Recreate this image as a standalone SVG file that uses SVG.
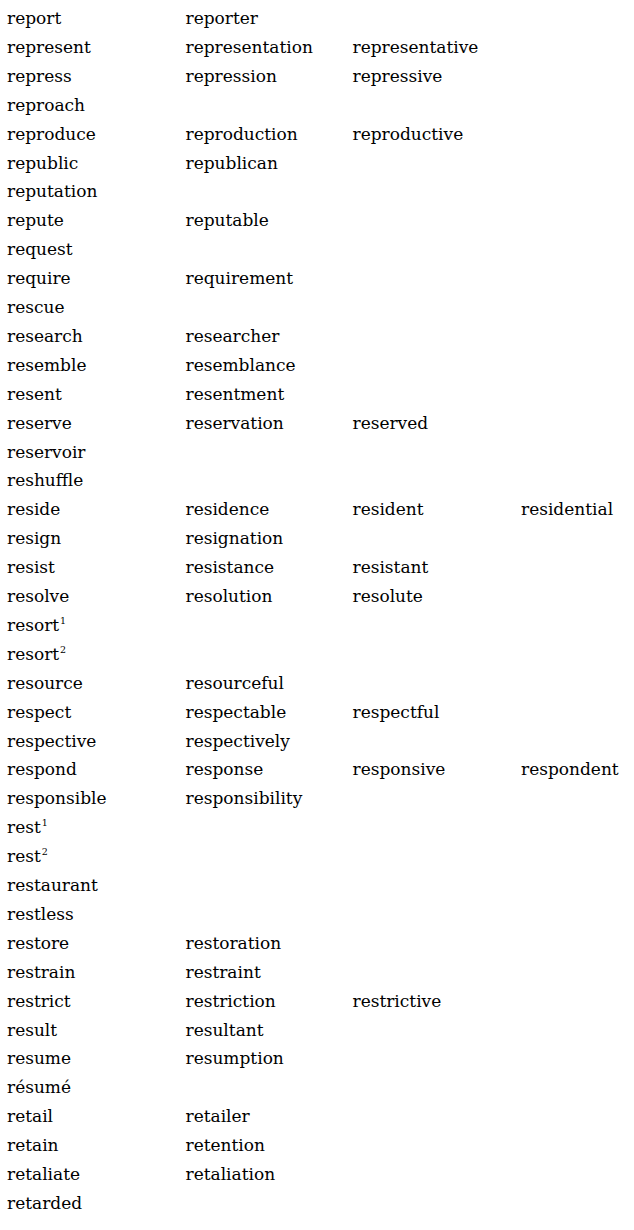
<svg xmlns="http://www.w3.org/2000/svg" width="634" height="1230" viewBox="0 0 634 1230">
<style>
text{font-family:"DejaVu Serif","Liberation Serif",serif;font-size:17px;fill:#000000}
.s{font-size:9.5px}
</style>
<rect width="634" height="1230" fill="#ffffff"/>
<g id="col1">
<text x="7" y="24">report</text>
<text x="7" y="52.9">represent</text>
<text x="7" y="81.8">repress</text>
<text x="7" y="110.7">reproach</text>
<text x="7" y="139.6">reproduce</text>
<text x="7" y="168.5">republic</text>
<text x="7" y="197.4">reputation</text>
<text x="7" y="226.3">repute</text>
<text x="7" y="255.2">request</text>
<text x="7" y="284.1">require</text>
<text x="7" y="313">rescue</text>
<text x="7" y="341.9">research</text>
<text x="7" y="370.8">resemble</text>
<text x="7" y="399.7">resent</text>
<text x="7" y="428.6">reserve</text>
<text x="7" y="457.5">reservoir</text>
<text x="7" y="486.4">reshuffle</text>
<text x="7" y="515.3">reside</text>
<text x="7" y="544.2">resign</text>
<text x="7" y="573.1">resist</text>
<text x="7" y="602">resolve</text>
<text x="7" y="630.9">resort<tspan class="s" dx="1" dy="-7">1</tspan></text>
<text x="7" y="659.8">resort<tspan class="s" dx="1" dy="-7">2</tspan></text>
<text x="7" y="688.7">resource</text>
<text x="7" y="717.6">respect</text>
<text x="7" y="746.5">respective</text>
<text x="7" y="775.4">respond</text>
<text x="7" y="804.3">responsible</text>
<text x="7" y="833.2">rest<tspan class="s" dx="1" dy="-7">1</tspan></text>
<text x="7" y="862.1">rest<tspan class="s" dx="1" dy="-7">2</tspan></text>
<text x="7" y="891">restaurant</text>
<text x="7" y="919.9">restless</text>
<text x="7" y="948.8">restore</text>
<text x="7" y="977.7">restrain</text>
<text x="7" y="1006.6">restrict</text>
<text x="7" y="1035.5">result</text>
<text x="7" y="1064.4">resume</text>
<text x="7" y="1093.3">résumé</text>
<text x="7" y="1122.2">retail</text>
<text x="7" y="1151.1">retain</text>
<text x="7" y="1180">retaliate</text>
<text x="7" y="1208.9">retarded</text>
</g>
<g id="col2">
<text x="185.5" y="24">reporter</text>
<text x="185.5" y="52.9">representation</text>
<text x="185.5" y="81.8">repression</text>
<text x="185.5" y="139.6">reproduction</text>
<text x="185.5" y="168.5">republican</text>
<text x="185.5" y="226.3">reputable</text>
<text x="185.5" y="284.1">requirement</text>
<text x="185.5" y="341.9">researcher</text>
<text x="185.5" y="370.8">resemblance</text>
<text x="185.5" y="399.7">resentment</text>
<text x="185.5" y="428.6">reservation</text>
<text x="185.5" y="515.3">residence</text>
<text x="185.5" y="544.2">resignation</text>
<text x="185.5" y="573.1">resistance</text>
<text x="185.5" y="602">resolution</text>
<text x="185.5" y="688.7">resourceful</text>
<text x="185.5" y="717.6">respectable</text>
<text x="185.5" y="746.5">respectively</text>
<text x="185.5" y="775.4">response</text>
<text x="185.5" y="804.3">responsibility</text>
<text x="185.5" y="948.8">restoration</text>
<text x="185.5" y="977.7">restraint</text>
<text x="185.5" y="1006.6">restriction</text>
<text x="185.5" y="1035.5">resultant</text>
<text x="185.5" y="1064.4">resumption</text>
<text x="185.5" y="1122.2">retailer</text>
<text x="185.5" y="1151.1">retention</text>
<text x="185.5" y="1180">retaliation</text>
</g>
<g id="col3">
<text x="352.5" y="52.9">representative</text>
<text x="352.5" y="81.8">repressive</text>
<text x="352.5" y="139.6">reproductive</text>
<text x="352.5" y="428.6">reserved</text>
<text x="352.5" y="515.3">resident</text>
<text x="352.5" y="573.1">resistant</text>
<text x="352.5" y="602">resolute</text>
<text x="352.5" y="717.6">respectful</text>
<text x="352.5" y="775.4">responsive</text>
<text x="352.5" y="1006.6">restrictive</text>
</g>
<g id="col4">
<text x="521" y="515.3">residential</text>
<text x="521" y="775.4">respondent</text>
</g>
</svg>
